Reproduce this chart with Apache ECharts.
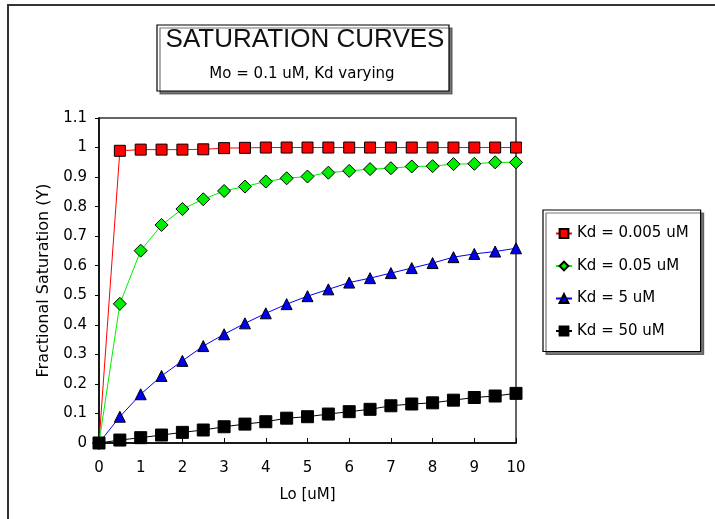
<!DOCTYPE html>
<html>
<head>
<meta charset="utf-8">
<script src="https://cdn.jsdelivr.net/npm/echarts@6/dist/echarts.min.js"></script>
<style>
html,body{margin:0;padding:0;background:#fff;}
#c{width:715px;height:519px;}
</style>
</head>
<body>
<div id="c"></div>
<script>
var loValues = [0,0.5,1,1.5,2,2.5,3,3.5,4,4.5,5,5.5,6,6.5,7,7.5,8,8.5,9,9.5,10];
var seriesNames = ['Kd = 0.005 uM','Kd = 0.05 uM','Kd = 5 uM','Kd = 50 uM'];
var kd0005 = [0,0.989,0.993,0.993,0.993,0.994,0.998,0.999,1,1,1,1,1,1,1,1,1,1,1,1,1];
var kd005 = [0,0.471,0.651,0.738,0.792,0.825,0.853,0.868,0.885,0.896,0.902,0.915,0.921,0.927,0.930,0.936,0.937,0.944,0.945,0.950,0.950];
var kd5 = [0,0.089,0.165,0.227,0.278,0.328,0.368,0.405,0.439,0.470,0.497,0.520,0.543,0.558,0.575,0.592,0.609,0.629,0.640,0.648,0.659];
var kd50 = [0,0.010,0.018,0.027,0.036,0.044,0.055,0.064,0.072,0.084,0.089,0.098,0.106,0.114,0.126,0.132,0.136,0.145,0.154,0.159,0.168];
var titleText = 'SATURATION CURVES';
var subtitleText = 'Mo = 0.1 uM, Kd varying';
var xName = 'Lo [uM]';
var yName = 'Fractional Saturation (Y)';

function pairs(ys){ return loValues.map(function(x,i){ return [x, ys[i]]; }); }

var FONT = '"Liberation Sans", Arial, sans-serif';
var WFONT = '"DejaVu Sans", Verdana, sans-serif';
var chart = echarts.init(document.getElementById('c'));

function mkSeries(name, data, color, symbol, size){
  return {
    name: name, type: 'line', data: pairs(data),
    symbol: symbol, symbolSize: size,
    lineStyle: {color: color, width: 1},
    itemStyle: {color: color, borderColor: '#000', borderWidth: 1},
    emphasis: {disabled: true},
    animation: false
  };
}

chart.setOption({
  animation: false,
  backgroundColor: '#fff',
  grid: {left: 99, top: 118, right: 199, bottom: 76, show: true, borderColor: '#333', borderWidth: 1.5, backgroundColor: 'transparent'},
  xAxis: {
    type: 'value', min: 0, max: 10, interval: 1,
    name: xName, nameLocation: 'middle', nameGap: 45,
    nameTextStyle: {fontFamily: WFONT, fontSize: 15, color: '#000'},
    axisLine: {lineStyle: {color: '#000', width: 1.5}},
    axisTick: {inside: true, length: 5, lineStyle: {color: '#000'}},
    axisLabel: {fontFamily: WFONT, fontSize: 15, color: '#000', margin: 18},
    splitLine: {show: false}
  },
  yAxis: {
    type: 'value', min: 0, max: 1.1, interval: 0.1,
    name: yName, nameLocation: 'middle', nameGap: 42,
    nameTextStyle: {fontFamily: WFONT, fontSize: 16, color: '#000'},
    axisLine: {show: true, lineStyle: {color: '#000', width: 1.5}},
    axisTick: {show: true, length: 4, lineStyle: {color: '#000'}},
    axisLabel: {fontFamily: WFONT, fontSize: 15, color: '#000', margin: 12,
      formatter: function(v){ return (Math.round(v*10)/10).toString(); }},
    splitLine: {show: false}
  },
  legend: {
    orient: 'vertical', left: 543, top: 210,
    padding: [16, 12, 13, 12], itemGap: 17.5,
    itemWidth: 16, itemHeight: 11,
    backgroundColor: '#fff',
    borderColor: '#000', borderWidth: 1.2,
    shadowColor: 'rgba(60,60,60,0.7)', shadowOffsetX: 3, shadowOffsetY: 3, shadowBlur: 0,
    textStyle: {fontFamily: WFONT, fontSize: 15, color: '#000'},
    data: seriesNames
  },
  graphic: [
    {type: 'rect', z: -10, silent: true, shape: {x: 8, y: 5, width: 800, height: 600},
     style: {fill: 'none', stroke: '#333', lineWidth: 2}},
    {type: 'rect', silent: true, shape: {x: 157, y: 25, width: 292, height: 66},
     style: {fill: '#fff', stroke: '#000', lineWidth: 1.2, shadowColor: 'rgba(60,60,60,0.7)', shadowOffsetX: 3, shadowOffsetY: 3, shadowBlur: 0}},
    {type: 'text', silent: true, x: 305, y: 40,
     style: {text: titleText, fill: '#111', font: '26px ' + FONT, align: 'center', verticalAlign: 'middle'}},
    {type: 'text', silent: true, x: 302, y: 74,
     style: {text: subtitleText, fill: '#000', font: '15px ' + WFONT, align: 'center', verticalAlign: 'middle'}}
  ],
  series: [
    mkSeries(seriesNames[0], kd0005, '#ff0000', 'rect', 11),
    mkSeries(seriesNames[1], kd005, '#00ee00', 'diamond', 13),
    mkSeries(seriesNames[2], kd5, '#0000ee', 'triangle', 11),
    mkSeries(seriesNames[3], kd50, '#000000', 'rect', 12)
  ]
});
</script>
</body>
</html>
